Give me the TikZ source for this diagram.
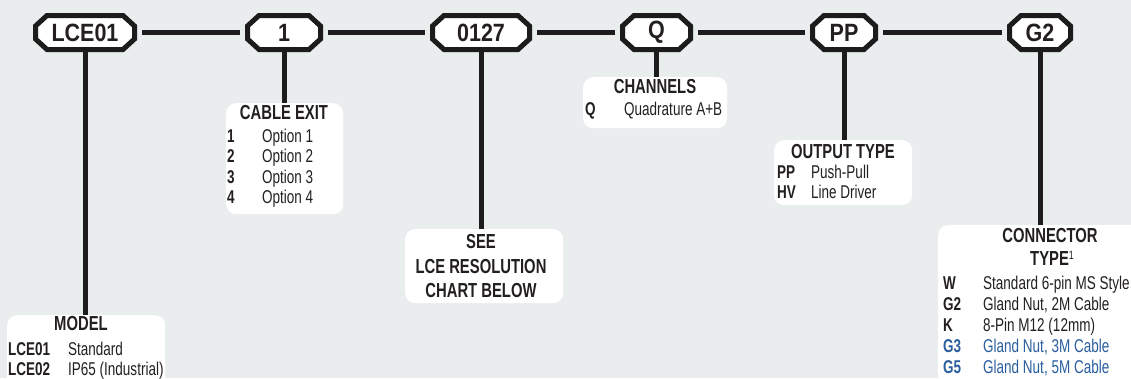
\documentclass[tikz,border=0pt]{standalone}
\usepackage{fontspec}
\setmainfont{Liberation Sans}[FakeStretch=0.73]
\newfontfamily\boxfont{Liberation Sans}[FakeStretch=0.86]
\usetikzlibrary{calc}
\definecolor{bg}{HTML}{E9EDEE}
\definecolor{ink}{HTML}{1C1C1C}
\definecolor{txt}{HTML}{231F20}
\definecolor{opt}{HTML}{2A5E9E}
\tikzset{
 codebox/.style={inner sep=0pt, minimum height=34pt, font=\boxfont\bfseries\fontsize{25}{25}\selectfont, text=txt},
 octline/.style={draw=ink, line width=5pt, fill=white, line join=miter},
 chain/.style={draw=ink, line width=5pt, shorten <=7.5pt, shorten >=7.5pt},
 drop/.style={draw=ink, line width=5pt},
 infobox/.style={fill=white, rounded corners=10pt, inner sep=0pt, anchor=north west},
 head/.style={inner sep=0pt, anchor=base, font=\bfseries\fontsize{20.3}{20}\selectfont, text=txt},
 code/.style={inner sep=0pt, anchor=base west, font=\bfseries\fontsize{18.5}{20}\selectfont, text=txt},
 desc/.style={inner sep=0pt, anchor=base west, font=\fontsize{18.5}{20}\selectfont, text=txt},
}
\newcommand\octbox[4]{%
 \draw[octline] (#2-#3+11.5,15.5) -- (#2+#3-11.5,15.5) -- (#2+#3,26) -- (#2+#3,39) -- (#2+#3-11.5,49.5) -- (#2-#3+11.5,49.5) -- (#2-#3,39) -- (#2-#3,26) -- cycle;
 \node[codebox, minimum width={2*#3 pt}] (#1) at (#2,32.5) {#4};}
\begin{document}
\begin{tikzpicture}[x=1pt,y=-1pt]
\fill[bg] (0,0) rectangle (1131,378);
\useasboundingbox (0,0) rectangle (1131,378);
\clip (0,0) rectangle (1131,378);
% info boxes
\node[infobox, minimum width=158pt, minimum height=75pt] (model) at (7,315) {};
\node[infobox, minimum width=117pt, minimum height=111pt] (cable) at (226,103) {};
\node[infobox, minimum width=158pt, minimum height=74pt] (see) at (405,229) {};
\node[infobox, minimum width=144pt, minimum height=51pt] (chan) at (583,77) {};
\node[infobox, minimum width=138pt, minimum height=65pt] (outp) at (774,140) {};
\node[infobox, minimum width=210pt, minimum height=170pt] (conn) at (938,225) {};
% code boxes
\octbox{lce}{85}{49.5}{LCE01}
\octbox{one}{284}{36.5}{1}
\octbox{res}{481}{48.5}{0127}
\octbox{chq}{656.5}{34}{Q}
\octbox{opp}{844}{31.5}{PP}
\octbox{cg}{1040}{30.5}{G2}
% chain
\draw[chain] (lce.east) -- (one.west);
\draw[chain] (one.east) -- (res.west);
\draw[chain] (res.east) -- (chq.west);
\draw[chain] (chq.east) -- (opp.west);
\draw[chain] (opp.east) -- (cg.west);
% drops
\draw[drop] (lce.south) -- (lce.south |- model.north);
\draw[drop] (one.south) -- (one.south |- cable.north);
\draw[drop] (res.south) -- (res.south |- see.north);
\draw[drop] (chq.south) -- (chq.south |- chan.north);
\draw[drop] (opp.south) -- (opp.south |- outp.north);
\draw[drop] (cg.south) -- (cg.south |- conn.north);
% MODEL
\node[head] (mh) at (81,330) {MODEL};
\node[code] (m1c) at (8,355) {LCE01};
\node[desc] (m1d) at (68,355) {Standard};
\node[code] (m2c) at (8,375) {LCE02};
\node[desc] (m2d) at (68,375) {IP65 (Industrial)};
% CABLE EXIT
\node[head] (ch) at (284,119) {CABLE EXIT};
\node[code] (c1c) at (227,142) {1};
\node[desc] (c1d) at (262,142) {Option 1};
\node[code] (c2c) at (227,162) {2};
\node[desc] (c2d) at (262,162) {Option 2};
\node[code] (c3c) at (227,183) {3};
\node[desc] (c3d) at (262,183) {Option 3};
\node[code] (c4c) at (227,203) {4};
\node[desc] (c4d) at (262,203) {Option 4};
% SEE
\node[head] (s1) at (481,248) {SEE};
\node[head] (s2) at (481,273) {LCE RESOLUTION};
\node[head] (s3) at (481,297) {CHART BELOW};
% CHANNELS
\node[head] (qh) at (655,93) {CHANNELS};
\node[code] (q1c) at (585,115) {Q};
\node[desc] (q1d) at (624,115) {Quadrature A+B};
% OUTPUT TYPE
\node[head] (oh) at (843,158) {OUTPUT TYPE};
\node[code] (o1c) at (777,178) {PP};
\node[desc] (o1d) at (811,178) {Push-Pull};
\node[code] (o2c) at (777,198) {HV};
\node[desc] (o2d) at (811,198) {Line Driver};
% CONNECTOR TYPE
\node[head] (kh1) at (1050,242) {CONNECTOR};
\node[head] (kh2) at (1052,265) {TYPE\raisebox{6pt}{\mdseries\fontsize{12}{12}\selectfont 1}};
\node[code] (k1c) at (943,289) {W};
\node[desc] (k1d) at (983,289) {Standard 6-pin MS Style};
\node[code] (k2c) at (943,310) {G2};
\node[desc] (k2d) at (983,310) {Gland Nut, 2M Cable};
\node[code] (k3c) at (943,331) {K};
\node[desc] (k3d) at (983,331) {8-Pin M12 (12mm)};
\node[code, text=opt] (k4c) at (943,352) {G3};
\node[desc, text=opt] (k4d) at (983,352) {Gland Nut, 3M Cable};
\node[code, text=opt] (k5c) at (943,373) {G5};
\node[desc, text=opt] (k5d) at (983,373) {Gland Nut, 5M Cable};
\end{tikzpicture}
\end{document}
